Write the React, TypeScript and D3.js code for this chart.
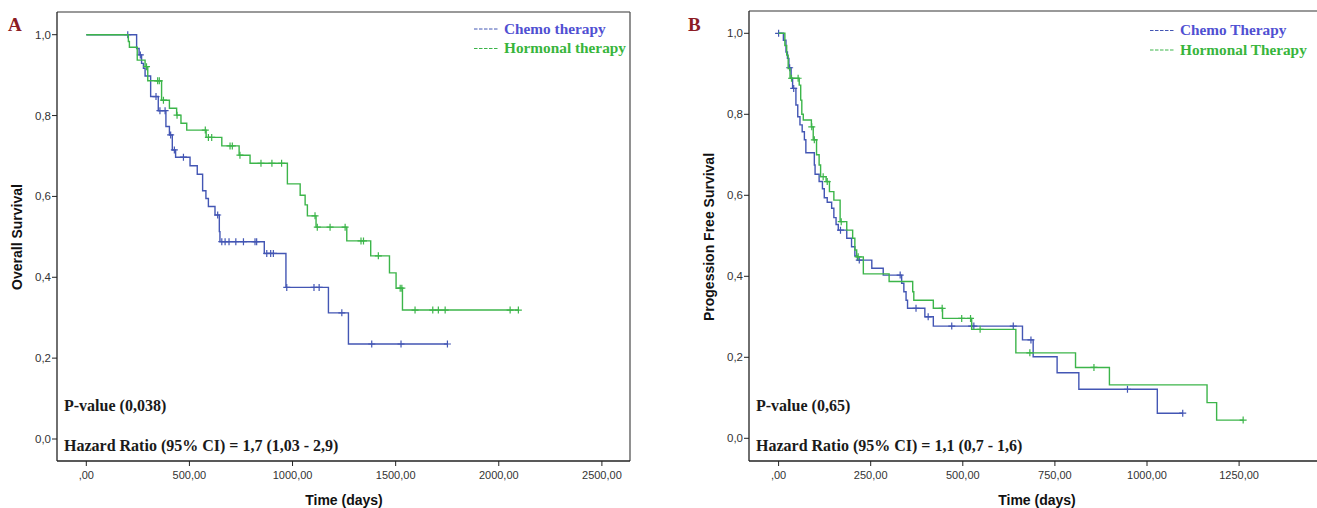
import React from "react";
import * as d3 from "d3";

// Overall survival (days, survival after event) and censored times
const CHEMO_OS_EVENTS: [number, number][] = [
  [244, 0.966], [256, 0.95], [268, 0.929], [277, 0.917], [285, 0.898], [312, 0.847],
  [349, 0.812], [386, 0.773], [403, 0.752], [417, 0.715], [433, 0.697], [503, 0.676],
  [538, 0.655], [564, 0.614], [580, 0.595], [592, 0.575], [624, 0.554], [645, 0.513],
  [648, 0.488], [863, 0.459], [968, 0.375], [1174, 0.312], [1271, 0.235],
];
const CHEMO_OS_CENSORED: number[] = [
  201, 262, 338, 357, 382, 409, 427, 471, 637, 657, 673, 692, 725, 762, 818, 826,
  875, 894, 907, 972, 1104, 1129, 1239, 1384, 1526, 1751,
];
const HORMONAL_OS_EVENTS: [number, number][] = [
  [204, 0.983], [209, 0.969], [247, 0.937], [285, 0.921], [298, 0.886], [365, 0.838],
  [403, 0.818], [438, 0.801], [459, 0.781], [487, 0.764], [581, 0.746], [657, 0.725],
  [741, 0.702], [794, 0.682], [975, 0.631], [1037, 0.603], [1061, 0.579], [1072, 0.552],
  [1114, 0.524], [1263, 0.49], [1379, 0.453], [1470, 0.411], [1502, 0.373], [1533, 0.319],
];
const HORMONAL_OS_CENSORED: number[] = [
  292, 346, 354, 374, 440, 577, 592, 608, 697, 708, 745, 847, 900, 947, 1109, 1120,
  1182, 1255, 1332, 1344, 1416, 1522, 1530, 1594, 1680, 1707, 1740, 2055, 2095,
];

// Progression free survival
const CHEMO_PFS_EVENTS: [number, number][] = [
  [13, 0.983], [20, 0.954], [24, 0.938], [28, 0.915], [34, 0.889], [38, 0.864],
  [47, 0.823], [52, 0.794], [58, 0.774], [64, 0.757], [70, 0.737], [74, 0.705],
  [97, 0.675], [99, 0.652], [110, 0.634], [119, 0.616], [124, 0.594], [132, 0.583],
  [144, 0.568], [150, 0.545], [156, 0.528], [162, 0.514], [185, 0.494], [198, 0.473],
  [207, 0.45], [214, 0.44], [253, 0.42], [284, 0.403], [334, 0.383], [340, 0.362],
  [346, 0.341], [350, 0.321], [397, 0.3], [420, 0.277], [662, 0.243], [691, 0.2015],
  [756, 0.162], [815, 0.121], [1028, 0.062],
];
const CHEMO_PFS_CENSORED: number[] = [
  0, 30, 41, 168, 219, 330, 373, 406, 470, 524, 530, 637, 685, 947, 1097,
];
const HORMONAL_PFS_EVENTS: [number, number][] = [
  [17, 0.97], [22, 0.946], [26, 0.913], [31, 0.889], [56, 0.872], [60, 0.835],
  [63, 0.8], [67, 0.786], [89, 0.769], [94, 0.737], [103, 0.7], [110, 0.675],
  [114, 0.646], [129, 0.634], [138, 0.609], [150, 0.588], [167, 0.535], [185, 0.514],
  [201, 0.494], [207, 0.465], [212, 0.448], [230, 0.406], [300, 0.387], [364, 0.362],
  [367, 0.341], [420, 0.321], [445, 0.296], [524, 0.269], [644, 0.211], [806, 0.175],
  [898, 0.132], [1163, 0.088], [1189, 0.045],
];
const HORMONAL_PFS_CENSORED: number[] = [
  35, 53, 90, 97, 121, 132, 170, 216, 444, 497, 521, 547, 682, 856, 1261,
];

const OS_X_TICKS = [0, 500, 1000, 1500, 2000, 2500];
const PFS_X_TICKS = [0, 250, 500, 750, 1000, 1250];
const Y_TICKS = [0, 0.2, 0.4, 0.6, 0.8, 1.0];

const BLUE = "#4356b4";
const GREEN = "#3cb54a";
const BLUE_TEXT = "#5050d2";
const GREEN_TEXT = "#38b53c";

const fmtX = (v: number) => (v === 0 ? ",00" : v.toFixed(2).replace(".", ","));
const fmtY = (v: number) => v.toFixed(1).replace(".", ",");

type Series = {
  events: [number, number][];
  censored: number[];
  color: string;
};

type PanelCfg = {
  letter: string;
  letterX: number;
  frame: { x0: number; y0: number; x1: number; y1: number };
  xDomain: [number, number];
  xRange: [number, number];
  yRange: [number, number];
  xTicks: number[];
  yLabel: string;
  yLabelX: number;
  xTitleX: number;
  legend: { x: number; y: number; labels: [string, string] };
  statsX: number;
  pValue: string;
  hazard: string;
  series: Series[];
};

const survivalAt = (events: [number, number][], t: number) => {
  let s = 1;
  for (const [et, es] of events) if (et <= t) s = es;
  return s;
};

function Panel({ cfg }: { cfg: PanelCfg }) {
  const x = d3.scaleLinear().domain(cfg.xDomain).range(cfg.xRange);
  const y = d3.scaleLinear().domain([0, 1]).range(cfg.yRange);
  const line = d3
    .line<[number, number]>()
    .x((d) => x(d[0]))
    .y((d) => y(d[1]))
    .curve(d3.curveStepAfter);
  const { x0, y0, x1, y1 } = cfg.frame;
  const tickFont = "'Liberation Sans', Arial, sans-serif";
  const serif = "'Liberation Serif', 'Times New Roman', serif";

  return (
    <g>
      <text x={cfg.letterX} y={31} fontFamily={serif} fontWeight="bold" fontSize={19} fill="#8c1c24">
        {cfg.letter}
      </text>
      {/* frame */}
      <line x1={x0} y1={y0} x2={x1} y2={y0} stroke="#777" strokeWidth={1.3} />
      <line x1={x1} y1={y0} x2={x1} y2={y1} stroke="#555" strokeWidth={1.3} />
      <line x1={x0} y1={y0} x2={x0} y2={y1} stroke="#222" strokeWidth={1.3} />
      <line x1={x0} y1={y1} x2={x1} y2={y1} stroke="#222" strokeWidth={1.3} />
      {/* y axis */}
      {Y_TICKS.map((t) => (
        <g key={"y" + t}>
          <line x1={x0 - 5} x2={x0} y1={y(t)} y2={y(t)} stroke="#222" strokeWidth={1} />
          <text
            x={x0 - 6}
            y={y(t)}
            dy="0.35em"
            textAnchor="end"
            fontFamily={tickFont}
            fontSize={11.5}
            fill="#333"
          >
            {fmtY(t)}
          </text>
        </g>
      ))}
      {/* x axis */}
      {cfg.xTicks.map((t) => (
        <g key={"x" + t}>
          <line x1={x(t)} x2={x(t)} y1={y1} y2={y1 + 5} stroke="#222" strokeWidth={1} />
          <text
            x={x(t)}
            y={479}
            textAnchor="middle"
            fontFamily={tickFont}
            fontSize={11}
            fill="#333"
          >
            {fmtX(t)}
          </text>
        </g>
      ))}
      <text
        x={cfg.xTitleX}
        y={505}
        textAnchor="middle"
        fontFamily={tickFont}
        fontWeight="bold"
        fontSize={14}
        fill="#111"
      >
        Time (days)
      </text>
      <text
        transform={`translate(${cfg.yLabelX},237) rotate(-90)`}
        textAnchor="middle"
        dy="0.35em"
        fontFamily={tickFont}
        fontWeight="bold"
        fontSize={14}
        fill="#111"
      >
        {cfg.yLabel}
      </text>
      {/* survival curves */}
      {cfg.series.map((s, i) => {
        const last = s.events[s.events.length - 1];
        const endT = Math.max(last[0], ...s.censored);
        const pts: [number, number][] = [[0, 1], ...s.events, [endT, last[1]]];
        return (
          <g key={"s" + i}>
            <path d={line(pts) || ""} fill="none" stroke={s.color} strokeWidth={1.4} />
            {s.censored.map((t, j) => {
              const cx = x(t);
              const cy = y(survivalAt(s.events, t));
              return (
                <path
                  key={j}
                  d={`M${cx},${cy - 3.5}V${cy + 3.5}M${cx - 3.5},${cy}H${cx + 3.5}`}
                  stroke={s.color}
                  strokeWidth={1.2}
                />
              );
            })}
          </g>
        );
      })}
      {/* legend */}
      {cfg.legend.labels.map((lab, i) => {
        const ly = cfg.legend.y + i * 19.5;
        const col = i === 0 ? BLUE : GREEN;
        return (
          <g key={"l" + i}>
            <line
              x1={cfg.legend.x}
              x2={cfg.legend.x + 25}
              y1={ly}
              y2={ly}
              stroke={col}
              strokeWidth={1}
              strokeDasharray="3.5,1.5"
            />
            <text
              x={cfg.legend.x + 30}
              y={ly}
              dy="0.32em"
              fontFamily={serif}
              fontWeight="bold"
              fontSize={15.3}
              fill={i === 0 ? BLUE_TEXT : GREEN_TEXT}
            >
              {lab}
            </text>
          </g>
        );
      })}
      {/* statistics */}
      <text x={cfg.statsX} y={406} dy="0.32em" fontFamily={serif} fontWeight="bold" fontSize={16} fill="#1a1a1a">
        {cfg.pValue}
      </text>
      <text x={cfg.statsX} y={446} dy="0.32em" fontFamily={serif} fontWeight="bold" fontSize={16} fill="#1a1a1a">
        {cfg.hazard}
      </text>
    </g>
  );
}

const PANELS: PanelCfg[] = [
  {
    letter: "A",
    letterX: 8,
    frame: { x0: 57, y0: 12, x1: 630, y1: 461 },
    xDomain: [0, 2500],
    xRange: [86.3, 601.9],
    yRange: [439, 34.7],
    xTicks: OS_X_TICKS,
    yLabel: "Overall Survival",
    yLabelX: 17,
    xTitleX: 344,
    legend: { x: 474, y: 29, labels: ["Chemo therapy", "Hormonal therapy"] },
    statsX: 64,
    pValue: "P-value (0,038)",
    hazard: "Hazard Ratio (95% CI) = 1,7 (1,03 - 2,9)",
    series: [
      { events: CHEMO_OS_EVENTS, censored: CHEMO_OS_CENSORED, color: BLUE },
      { events: HORMONAL_OS_EVENTS, censored: HORMONAL_OS_CENSORED, color: GREEN },
    ],
  },
  {
    letter: "B",
    letterX: 688,
    frame: { x0: 749, y0: 11, x1: 1330, y1: 461 },
    xDomain: [0, 1250],
    xRange: [778.6, 1239.1],
    yRange: [438.3, 33.3],
    xTicks: PFS_X_TICKS,
    yLabel: "Progession Free Survival",
    yLabelX: 709,
    xTitleX: 1037,
    legend: { x: 1150, y: 30.5, labels: ["Chemo Therapy", "Hormonal Therapy"] },
    statsX: 756,
    pValue: "P-value (0,65)",
    hazard: "Hazard Ratio (95% CI) = 1,1 (0,7 - 1,6)",
    series: [
      { events: CHEMO_PFS_EVENTS, censored: CHEMO_PFS_CENSORED, color: BLUE },
      { events: HORMONAL_PFS_EVENTS, censored: HORMONAL_PFS_CENSORED, color: GREEN },
    ],
  },
];

export default function App() {
  return (
    <svg
      width={1317}
      height={508}
      style={{ position: "absolute", left: 0, top: 0, background: "#fff" }}
    >
      <rect width={1317} height={508} fill="#fff" />
      {PANELS.map((p) => (
        <Panel key={p.letter} cfg={p} />
      ))}
    </svg>
  );
}
